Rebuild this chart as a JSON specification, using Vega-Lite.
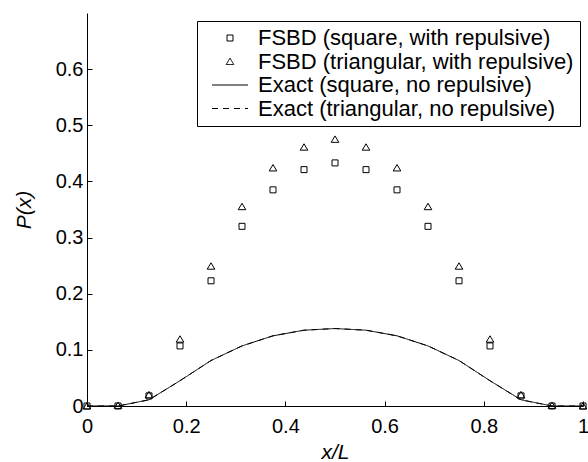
{
  "$schema": "https://vega.github.io/schema/vega-lite/v6.json",
  "autosize": "none",
  "width": 496,
  "height": 393,
  "padding": {"left": 87, "top": 13, "right": 5, "bottom": 56},
  "background": "white",
  "config": {
    "view": {"stroke": null},
    "font": "Liberation Sans",
    "axis": {
      "grid": false,
      "domainColor": "black",
      "domainWidth": 1,
      "tickColor": "black",
      "tickSize": -5,
      "labelColor": "black",
      "labelFontSize": 20,
      "labelFont": "Liberation Sans",
      "titleFont": "Liberation Sans",
      "titleFontSize": 21,
      "titleFontWeight": "normal",
      "titleFontStyle": "italic",
      "titleColor": "black",
      "labelFlush": false
    },
    "legend": {
      "orient": "none",
      "legendX": 110,
      "legendY": 8,
      "padding": 6,
      "strokeColor": "black",
      "fillColor": "white",
      "symbolSize": 64,
      "symbolOffset": 16,
      "symbolStrokeColor": "black",
      "symbolStrokeWidth": 1,
      "labelFontSize": 22,
      "labelFont": "Liberation Sans",
      "labelColor": "black",
      "labelOffset": 17,
      "labelLimit": 500,
      "rowPadding": 1.5
    }
  },
  "data": {
    "values": [
      {"x": 0, "P": 0, "series": "FSBD (square, with repulsive)"},
      {"x": 0.0625, "P": 0, "series": "FSBD (square, with repulsive)"},
      {"x": 0.125, "P": 0.018, "series": "FSBD (square, with repulsive)"},
      {"x": 0.1875, "P": 0.107, "series": "FSBD (square, with repulsive)"},
      {"x": 0.25, "P": 0.223, "series": "FSBD (square, with repulsive)"},
      {"x": 0.3125, "P": 0.32, "series": "FSBD (square, with repulsive)"},
      {"x": 0.375, "P": 0.385, "series": "FSBD (square, with repulsive)"},
      {"x": 0.4375, "P": 0.421, "series": "FSBD (square, with repulsive)"},
      {"x": 0.5, "P": 0.433, "series": "FSBD (square, with repulsive)"},
      {"x": 0.5625, "P": 0.421, "series": "FSBD (square, with repulsive)"},
      {"x": 0.625, "P": 0.385, "series": "FSBD (square, with repulsive)"},
      {"x": 0.6875, "P": 0.32, "series": "FSBD (square, with repulsive)"},
      {"x": 0.75, "P": 0.223, "series": "FSBD (square, with repulsive)"},
      {"x": 0.8125, "P": 0.107, "series": "FSBD (square, with repulsive)"},
      {"x": 0.875, "P": 0.018, "series": "FSBD (square, with repulsive)"},
      {"x": 0.9375, "P": 0, "series": "FSBD (square, with repulsive)"},
      {"x": 1, "P": 0, "series": "FSBD (square, with repulsive)"},
      {"x": 0, "P": 0, "series": "FSBD (triangular, with repulsive)"},
      {"x": 0.0625, "P": 0.001, "series": "FSBD (triangular, with repulsive)"},
      {"x": 0.125, "P": 0.02, "series": "FSBD (triangular, with repulsive)"},
      {"x": 0.1875, "P": 0.119, "series": "FSBD (triangular, with repulsive)"},
      {"x": 0.25, "P": 0.249, "series": "FSBD (triangular, with repulsive)"},
      {"x": 0.3125, "P": 0.355, "series": "FSBD (triangular, with repulsive)"},
      {"x": 0.375, "P": 0.424, "series": "FSBD (triangular, with repulsive)"},
      {"x": 0.4375, "P": 0.461, "series": "FSBD (triangular, with repulsive)"},
      {"x": 0.5, "P": 0.475, "series": "FSBD (triangular, with repulsive)"},
      {"x": 0.5625, "P": 0.461, "series": "FSBD (triangular, with repulsive)"},
      {"x": 0.625, "P": 0.424, "series": "FSBD (triangular, with repulsive)"},
      {"x": 0.6875, "P": 0.355, "series": "FSBD (triangular, with repulsive)"},
      {"x": 0.75, "P": 0.249, "series": "FSBD (triangular, with repulsive)"},
      {"x": 0.8125, "P": 0.119, "series": "FSBD (triangular, with repulsive)"},
      {"x": 0.875, "P": 0.02, "series": "FSBD (triangular, with repulsive)"},
      {"x": 0.9375, "P": 0.001, "series": "FSBD (triangular, with repulsive)"},
      {"x": 1, "P": 0, "series": "FSBD (triangular, with repulsive)"},
      {"x": 0, "P": 0, "series": "Exact (square, no repulsive)"},
      {"x": 0.0625, "P": 0, "series": "Exact (square, no repulsive)"},
      {"x": 0.125, "P": 0.011, "series": "Exact (square, no repulsive)"},
      {"x": 0.1875, "P": 0.045, "series": "Exact (square, no repulsive)"},
      {"x": 0.25, "P": 0.081, "series": "Exact (square, no repulsive)"},
      {"x": 0.3125, "P": 0.107, "series": "Exact (square, no repulsive)"},
      {"x": 0.375, "P": 0.125, "series": "Exact (square, no repulsive)"},
      {"x": 0.4375, "P": 0.135, "series": "Exact (square, no repulsive)"},
      {"x": 0.5, "P": 0.138, "series": "Exact (square, no repulsive)"},
      {"x": 0.5625, "P": 0.135, "series": "Exact (square, no repulsive)"},
      {"x": 0.625, "P": 0.125, "series": "Exact (square, no repulsive)"},
      {"x": 0.6875, "P": 0.107, "series": "Exact (square, no repulsive)"},
      {"x": 0.75, "P": 0.081, "series": "Exact (square, no repulsive)"},
      {"x": 0.8125, "P": 0.045, "series": "Exact (square, no repulsive)"},
      {"x": 0.875, "P": 0.011, "series": "Exact (square, no repulsive)"},
      {"x": 0.9375, "P": 0, "series": "Exact (square, no repulsive)"},
      {"x": 1, "P": 0, "series": "Exact (square, no repulsive)"},
      {"x": 0, "P": 0, "series": "Exact (triangular, no repulsive)"},
      {"x": 0.0625, "P": 0, "series": "Exact (triangular, no repulsive)"},
      {"x": 0.125, "P": 0.011, "series": "Exact (triangular, no repulsive)"},
      {"x": 0.1875, "P": 0.045, "series": "Exact (triangular, no repulsive)"},
      {"x": 0.25, "P": 0.081, "series": "Exact (triangular, no repulsive)"},
      {"x": 0.3125, "P": 0.107, "series": "Exact (triangular, no repulsive)"},
      {"x": 0.375, "P": 0.125, "series": "Exact (triangular, no repulsive)"},
      {"x": 0.4375, "P": 0.135, "series": "Exact (triangular, no repulsive)"},
      {"x": 0.5, "P": 0.138, "series": "Exact (triangular, no repulsive)"},
      {"x": 0.5625, "P": 0.135, "series": "Exact (triangular, no repulsive)"},
      {"x": 0.625, "P": 0.125, "series": "Exact (triangular, no repulsive)"},
      {"x": 0.6875, "P": 0.107, "series": "Exact (triangular, no repulsive)"},
      {"x": 0.75, "P": 0.081, "series": "Exact (triangular, no repulsive)"},
      {"x": 0.8125, "P": 0.045, "series": "Exact (triangular, no repulsive)"},
      {"x": 0.875, "P": 0.011, "series": "Exact (triangular, no repulsive)"},
      {"x": 0.9375, "P": 0, "series": "Exact (triangular, no repulsive)"},
      {"x": 1, "P": 0, "series": "Exact (triangular, no repulsive)"}
    ]
  },
  "encoding": {
    "x": {
      "field": "x", "type": "quantitative",
      "scale": {"domain": [0, 1], "nice": false, "zero": false},
      "axis": {"title": "x/L", "values": [0, 0.2, 0.4, 0.6, 0.8, 1], "format": "~g", "labelPadding": 15.5, "titlePadding": 5}
    },
    "y": {
      "field": "P", "type": "quantitative",
      "scale": {"domain": [0, 0.7], "nice": false},
      "axis": {"title": "P(x)", "values": [0, 0.1, 0.2, 0.3, 0.4, 0.5, 0.6], "format": "~g", "labelPadding": 9, "titlePadding": 21}
    }
  },
  "layer": [
    {
      "transform": [{"filter": "indexof(datum.series, 'Exact') == 0"}],
      "mark": {"type": "line", "color": "black", "strokeWidth": 1},
      "encoding": {
        "strokeDash": {
          "field": "series", "type": "nominal",
          "scale": {
            "domain": ["FSBD (square, with repulsive)", "FSBD (triangular, with repulsive)", "Exact (square, no repulsive)", "Exact (triangular, no repulsive)"],
            "range": [[1, 0], [1, 0], [1, 0], [6, 5]]
          },
          "legend": {"title": null}
        }
      }
    },
    {
      "transform": [{"filter": "indexof(datum.series, 'FSBD') == 0"}],
      "mark": {"type": "point", "filled": false, "color": "black", "strokeWidth": 1, "size": 64, "opacity": 1},
      "encoding": {
        "shape": {
          "field": "series", "type": "nominal",
          "scale": {
            "domain": ["FSBD (square, with repulsive)", "FSBD (triangular, with repulsive)", "Exact (square, no repulsive)", "Exact (triangular, no repulsive)"],
            "range": ["M-0.75,-0.75H0.75V0.75H-0.75Z", "M0,-0.85L0.95,0.75H-0.95Z", "M-4.5,0H4.5", "M-4.5,0H4.5"]
          },
          "legend": {"title": null}
        }
      }
    }
  ]
}
